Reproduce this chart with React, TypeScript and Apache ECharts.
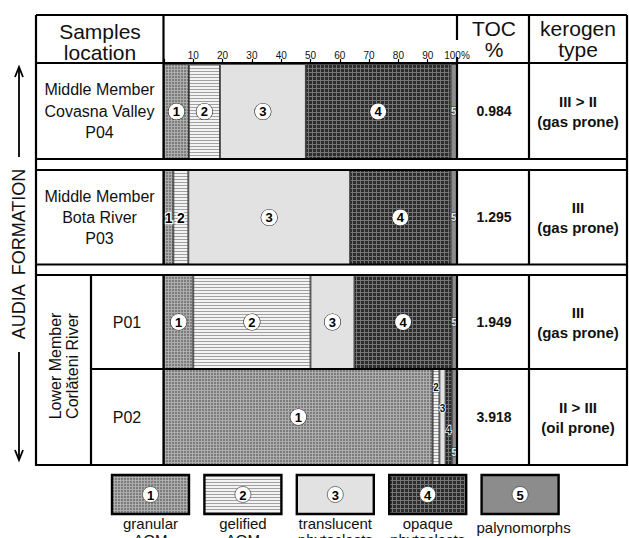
import React, { useEffect, useRef } from 'react';
import * as echarts from 'echarts';

// ---------- data ----------
const samples = ['P04', 'P03', 'P01', 'P02'];
const locationLabels = [
  'Middle Member\nCovasna Valley\nP04',
  'Middle Member\nBota River\nP03',
  'P01',
  'P02',
];
const componentIds = ['1', '2', '3', '4', '5'];
const componentNames = [
  'granular\nAOM',
  'gelified\nAOM',
  'translucent\nphytoclasts',
  'opaque\nphytoclasts',
  'palynomorphs',
];
// percentages per sample, order: P04, P03, P01, P02
const granularAOM = [8.5, 3.2, 10.0, 91.7];
const gelifiedAOM = [10.6, 5.1, 40.0, 2.3];
const translucentPhytoclasts = [29.3, 55.2, 15.0, 2.1];
const opaquePhytoclasts = [49.4, 34.3, 33.2, 2.1];
const palynomorphs = [2.2, 2.2, 1.8, 1.8];
const tocValues = [0.984, 1.295, 1.949, 3.918];
const kerogenTypes = [
  'III > II\n(gas prone)',
  'III\n(gas prone)',
  'III\n(gas prone)',
  'II > III\n(oil prone)',
];
const headerSamples = 'Samples\nlocation';
const headerToc = 'TOC\n%';
const headerKerogen = 'kerogen\ntype';
const formationLabel = 'AUDIA  FORMATION';
const lowerMemberLabel = 'Lower Member\nCorlăteni River';

// ---------- layout ----------
const FONT = '"Liberation Sans", Arial, Helvetica, sans-serif';
const X0 = 164;
const BAR_W = 293;
const rowRects = [
  { top: 64, height: 95 },
  { top: 170, height: 95 },
  { top: 275, height: 94 },
  { top: 369, height: 96 },
];
const rowCenters = [111, 217, 322, 417];
const p02SmallOffsets = [0, -30, -9, 13, 35];

function makePattern(size: number, base: string, draw?: (c: CanvasRenderingContext2D) => void) {
  const c = document.createElement('canvas');
  c.width = size;
  c.height = size;
  const ctx = c.getContext('2d')!;
  ctx.fillStyle = base;
  ctx.fillRect(0, 0, size, size);
  if (draw) draw(ctx);
  return { image: c.toDataURL(), repeat: 'repeat', imageWidth: size, imageHeight: size } as any;
}

export default function App() {
  const ref = useRef<HTMLDivElement>(null);
  useEffect(() => {
    const chart = echarts.init(ref.current!, null, { renderer: 'svg' });

    const patterns = [
      makePattern(3, '#7c7c7c', (c) => {
        c.fillStyle = '#adadad';
        c.fillRect(0, 0, 3, 1);
        c.fillRect(0, 0, 1, 3);
      }),
      makePattern(3, '#f3f3f3', (c) => {
        c.fillStyle = '#a0a0a0';
        c.fillRect(0, 2, 3, 1);
      }),
      makePattern(2, '#e2e2e2'),
      makePattern(4, '#2c2c2c', (c) => {
        c.fillStyle = '#767676';
        c.fillRect(0, 0, 4, 1);
        c.fillRect(0, 0, 1, 4);
      }),
      makePattern(2, '#8c8c8c'),
    ];

    const comps = [granularAOM, gelifiedAOM, translucentPhytoclasts, opaquePhytoclasts, palynomorphs];

    const circleLabel = (id: string) => ({
      show: true,
      position: 'inside',
      formatter: id,
      fontFamily: FONT,
      fontWeight: 'bold',
      fontSize: 13,
      color: '#000',
      backgroundColor: '#fff',
      borderColor: '#222',
      borderWidth: 0.6,
      borderRadius: 8,
      width: 16,
      height: 16,
      lineHeight: 16,
      align: 'center',
      verticalAlign: 'middle',
      padding: 0,
    });

    const labelFor = (r: number, k: number, v: number) => {
      if (v >= 8) return circleLabel(componentIds[k]);
      if (v >= 3)
        return {
          show: true,
          position: 'inside',
          formatter: componentIds[k],
          fontFamily: FONT,
          fontWeight: 'bold',
          fontSize: 14,
          color: '#000',
          textBorderColor: '#fff',
          textBorderWidth: 2.5,
        };
      const isP02 = r === 3;
      return {
        show: true,
        position: 'inside',
        formatter: componentIds[k],
        fontFamily: FONT,
        fontWeight: 'bold',
        fontSize: 10,
        color: k === 4 ? '#eeeeee' : '#111',
        textBorderColor: k === 4 ? '#333' : '#fff',
        textBorderWidth: k === 4 ? 1 : 1.5,
        offset: [0, isP02 ? p02SmallOffsets[k] : 0],
      };
    };

    const grids = rowRects.map((rc) => ({ left: X0, width: BAR_W, top: rc.top, height: rc.height }));
    const xAxes = rowRects.map((_, r) => ({
      gridIndex: r,
      type: 'value',
      min: 0,
      max: 100,
      interval: 10,
      show: r === 0,
      position: 'top',
      axisLine: { show: false },
      splitLine: { show: false },
      axisTick: { show: true, length: 5, lineStyle: { color: '#000', width: 1.2 } },
      axisLabel: {
        show: true,
        margin: 4,
        fontSize: 10,
        color: '#111',
        fontFamily: FONT,
        showMinLabel: true,
        showMaxLabel: true,
        formatter: (v: number) => (v === 0 ? '' : v === 100 ? '100%' : String(v)),
      },
    }));
    const yAxes = rowRects.map((_, r) => ({
      gridIndex: r,
      type: 'category',
      data: [samples[r]],
      show: false,
    }));

    const series: any[] = [];
    samples.forEach((s, r) => {
      comps.forEach((vals, k) => {
        series.push({
          type: 'bar',
          name: componentNames[k],
          xAxisIndex: r,
          yAxisIndex: r,
          stack: 'row' + r,
          barWidth: '100%',
          silent: true,
          data: [{ value: vals[r], label: labelFor(r, k, vals[r]) }],
          itemStyle: { color: patterns[k], borderColor: '#1a1a1a', borderWidth: 0.8 },
        });
      });
    });

    const LW = 2.2;
    const ln = (x1: number, y1: number, x2: number, y2: number) => ({
      type: 'line',
      z: 100,
      shape: { x1, y1, x2, y2 },
      style: { stroke: '#000', lineWidth: LW },
    });
    const rowSpans = [
      [15, 159],
      [170, 264.5],
      [275, 465],
    ];
    const lines: any[] = [
      ln(36, 15, 627, 15),
      ln(36, 63, 627, 63),
      ln(36, 159, 627, 159),
      ln(36, 170, 627, 170),
      ln(36, 264.5, 627, 264.5),
      ln(36, 275, 627, 275),
      ln(91, 369, 627, 369),
      ln(35, 465, 628, 465),
      ln(36, 15, 36, 465),
      ln(627, 15, 627, 465),
      ln(91, 275, 91, 465),
    ];
    rowSpans.forEach(([a, b]) => {
      lines.push(ln(163.5, a, 163.5, b));
      lines.push(ln(529, a, 529, b));
      if (a === 15) {
        lines.push(ln(457, 15, 457, 40));
        lines.push(ln(457, 57, 457, b));
      } else lines.push(ln(457, a, 457, b));
    });

    const txt = (x: number, y: number, text: string, extra: any = {}) => ({
      type: 'text',
      z: 110,
      x,
      y,
      style: {
        text,
        fontFamily: FONT,
        fill: '#111',
        align: 'center',
        verticalAlign: 'middle',
        ...extra,
      },
    });

    const texts: any[] = [
      txt(100, 41.5, headerSamples, { fontSize: 21, lineHeight: 21 }),
      txt(494, 38.5, headerToc, { fontSize: 21, lineHeight: 21 }),
      txt(578, 38.5, headerKerogen, { fontSize: 21, lineHeight: 21 }),
      txt(99.5, rowCenters[0], locationLabels[0], { fontSize: 16, lineHeight: 21.5 }),
      txt(99.5, rowCenters[1], locationLabels[1], { fontSize: 16, lineHeight: 21 }),
      txt(127, rowCenters[2], locationLabels[2], { fontSize: 16 }),
      txt(127, rowCenters[3], locationLabels[3], { fontSize: 16 }),
      { ...txt(64, 366, lowerMemberLabel, { fontSize: 16, lineHeight: 17 }), rotation: Math.PI / 2 },
      { ...txt(19, 254, formationLabel, { fontSize: 18 }), rotation: Math.PI / 2 },
    ];
    tocValues.forEach((v, r) => {
      texts.push(txt(494, rowCenters[r], v.toFixed(3), { fontSize: 14, fontWeight: 'bold' }));
      texts.push(txt(578, rowCenters[r], kerogenTypes[r], { fontSize: 15, fontWeight: 'bold', lineHeight: 20 }));
    });

    // arrows
    const arrows: any[] = [
      { type: 'line', shape: { x1: 19, y1: 157, x2: 19, y2: 69 }, style: { stroke: '#000', lineWidth: 1.8 } },
      { type: 'polyline', shape: { points: [[15, 77], [19, 67], [23, 77]] }, style: { stroke: '#000', lineWidth: 1.8, fill: null } },
      { type: 'line', shape: { x1: 19, y1: 352, x2: 19, y2: 458 }, style: { stroke: '#000', lineWidth: 1.8 } },
      { type: 'polyline', shape: { points: [[15, 450], [19, 460], [23, 450]] }, style: { stroke: '#000', lineWidth: 1.8, fill: null } },
    ];

    // legend
    const legend: any[] = [];
    componentNames.forEach((name, k) => {
      const x = 112 + k * 92.4;
      legend.push({
        type: 'rect',
        z: 50,
        shape: { x, y: 475, width: 77, height: 39 },
        style: { fill: patterns[k], stroke: '#000', lineWidth: 2.4 },
      });
      legend.push({
        type: 'circle',
        z: 60,
        shape: { cx: x + 38.5, cy: 494.5, r: 8 },
        style: { fill: '#fff', stroke: '#222', lineWidth: 0.6 },
      });
      legend.push(txt(x + 38.5, 495, componentIds[k], { fontSize: 13, fontWeight: 'bold', fill: '#000' }));
      const twoLine = name.indexOf('\n') >= 0;
      legend.push(
        twoLine
          ? txt(x + 38.5, 515, name, { fontSize: 15, lineHeight: 16, verticalAlign: 'top' })
          : txt(x + 42, 527, name, { fontSize: 15 })
      );
    });

    chart.setOption({
      animation: false,
      backgroundColor: '#fff',
      grid: grids,
      xAxis: xAxes,
      yAxis: yAxes,
      series,
      graphic: { elements: [...lines, ...texts, ...arrows, ...legend] },
    });
    return () => chart.dispose();
  }, []);
  return (
    <div
      ref={ref}
      style={{ position: 'fixed', left: 0, top: 0, width: 629, height: 538, background: '#fff' }}
    />
  );
}
